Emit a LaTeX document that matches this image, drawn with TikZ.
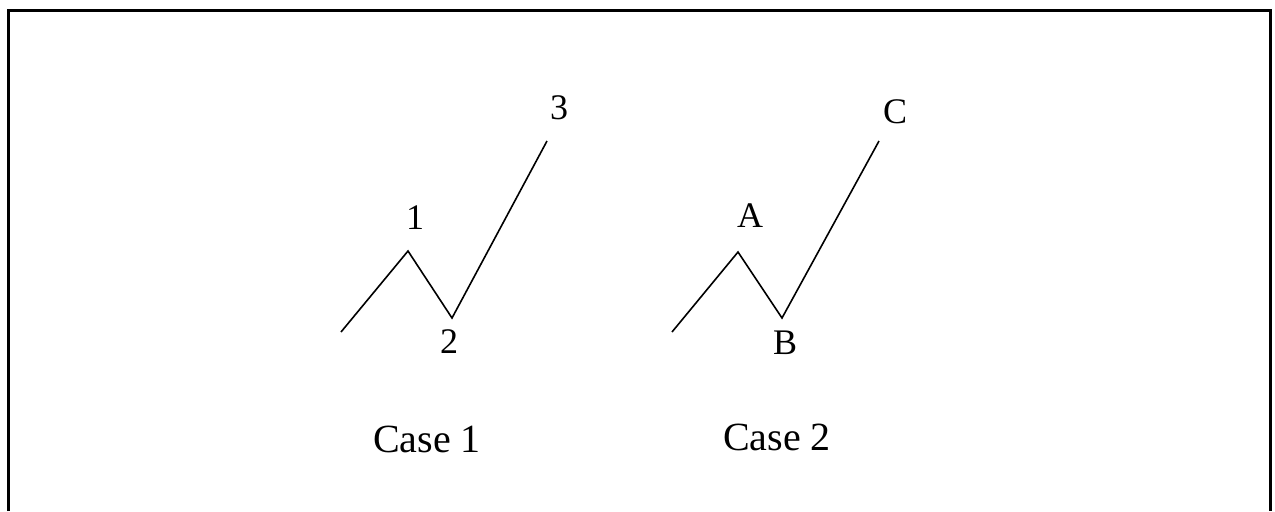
\documentclass[tikz,border=0pt]{standalone}
\usepackage{fontspec}
\setmainfont{Liberation Serif}
\usetikzlibrary{positioning}
\tikzset{
  wave/.style={line width=0.8pt,line join=miter},
  ptlabel/.style={inner sep=0pt,font=\fontsize{18}{21}\selectfont},
  caselabel/.style={inner sep=0pt,font=\fontsize{20}{24}\selectfont}
}

\begin{document}
\begin{tikzpicture}[x=0.5pt,y=-0.5pt]
\useasboundingbox (0,0) rectangle (1275,511);
\fill[white] (0,0) rectangle (1275,511);
% frame (bottom edge runs off the picture)
\coordinate (FBL) at (8,511);
\coordinate (FTL) at (8,10);
\coordinate (FTR) at (1270,10);
\coordinate (FBR) at (1270,511);
\draw[line width=1.5pt] (FBL)--(FTL)--(FTR)--(FBR);
% case 1
\coordinate (S1) at (341,332);
\coordinate (P1) at (408,251);
\coordinate (T1) at (452,318);
\coordinate (E1) at (547,141);
\draw[wave] (S1)--(P1)--(T1)--(E1);
\node[ptlabel] (one) at (415,218) {1};
\node[ptlabel] (two) at (449,342) {2};
\node[ptlabel] (three) at (559,108) {3};
\node[caselabel] (case1) at (427,439) {Case 1};
% case 2
\coordinate (S2) at (672,332);
\coordinate (P2) at (738,252);
\coordinate (T2) at (782,318);
\coordinate (E2) at (879,141);
\draw[wave] (S2)--(P2)--(T2)--(E2);
\node[ptlabel] (A) at (750,216) {A};
\node[ptlabel] (B) at (785,343) {B};
\node[ptlabel] (C) at (895,112) {C};
\node[caselabel] (case2) at (777,437) {Case 2};
\end{tikzpicture}
\end{document}
